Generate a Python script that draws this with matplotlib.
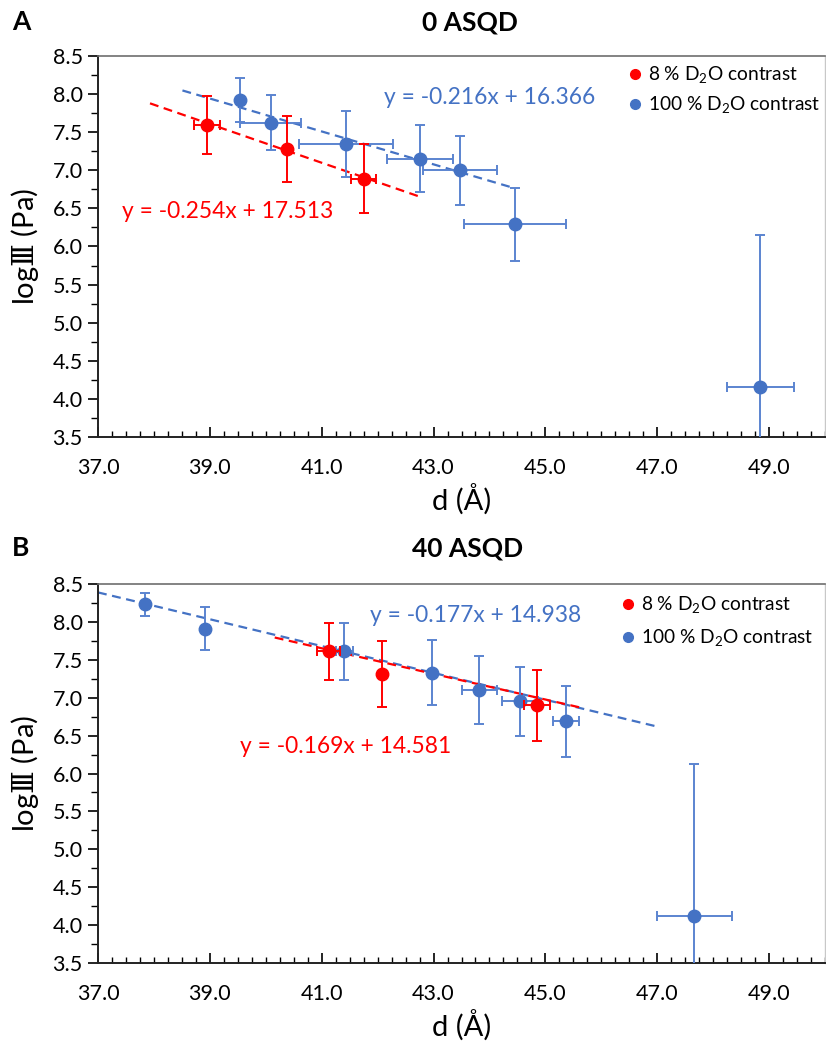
#!/usr/bin/env python3

import numpy as np
import matplotlib
matplotlib.use('Agg')
import matplotlib.pyplot as plt
from matplotlib.lines import Line2D
from matplotlib.ticker import MultipleLocator, FixedLocator, FormatStrFormatter

plt.rcParams['font.family'] = ['Lato', 'DejaVu Sans']
plt.rcParams['mathtext.fontset'] = 'custom'
plt.rcParams['mathtext.rm'] = 'Lato'
plt.rcParams['mathtext.cal'] = 'DejaVu Serif'

RED = '#ff0000'
BLUE = '#4472c4'
BLUE_ERR = '#5b84d0'

x_ticks = [37.0, 39.0, 41.0, 43.0, 45.0, 47.0, 49.0]

# panel A : 0 ASQD
a_red_x = [38.95, 40.38, 41.75]
a_red_y = [7.59, 7.28, 6.89]
a_red_xerr = [0.24, 0.0, 0.22]
a_red_yerr = [0.38, 0.43, 0.455]
a_blue_x = [39.54, 40.09, 41.44, 42.76, 43.47, 44.45, 48.84]
a_blue_y = [7.92, 7.625, 7.345, 7.15, 7.00, 6.29, 4.15]
a_blue_xerr = [0.0, 0.545, 0.84, 0.595, 0.66, 0.91, 0.60]
a_blue_yerr = [0.29, 0.36, 0.43, 0.44, 0.455, 0.48, 2.0]
a_red_fit = (-0.254, 17.513)
a_red_fit_range = [37.93, 42.76]
a_blue_fit = (-0.216, 16.366)
a_blue_fit_range = [38.51, 44.45]

# panel B : 40 ASQD
b_red_x = [41.125, 42.08, 44.85]
b_red_y = [7.61, 7.31, 6.90]
b_red_xerr = [0.2, 0.0, 0.23]
b_red_yerr = [0.375, 0.435, 0.47]
b_blue_x = [37.845, 38.92, 41.405, 42.976, 43.82, 44.54, 45.37, 47.66]
b_blue_y = [8.23, 7.91, 7.61, 7.33, 7.10, 6.95, 6.69, 4.12]
b_blue_xerr = [0.0, 0.0, 0.155, 0.0, 0.31, 0.32, 0.23, 0.67]
b_blue_yerr = [0.155, 0.28, 0.375, 0.43, 0.445, 0.46, 0.47, 2.0]
b_red_fit = (-0.169, 14.581)
b_red_fit_range = [40.16, 45.67]
b_blue_fit = (-0.177, 14.938)
b_blue_fit_range = [37.0, 46.95]

legend_labels = ['8 % D$_\\mathrm{2}$O contrast', '100 % D$_\\mathrm{2}$O contrast']
y_label = "log$\\mathcal{Ⅲ}$ (Pa)"


def eq_text(fit) :
	return "y = {0:.3f}x + {1:.3f}".format(fit[0], fit[1])


def draw_panel(ax, red, blue, red_fit, blue_fit, eq_pos, leg_pos, leg_space) :
	rx, ry, rxe, rye = red
	bx, by, bxe, bye = blue
	rr, rf = red_fit
	br, bf = blue_fit

	xs = np.array(br)
	ax.plot(xs, bf[0] * xs + bf[1], ls=(0, (4, 2.5)), color=BLUE, lw=1.6, zorder=2)
	xs = np.array(rr)
	ax.plot(xs, rf[0] * xs + rf[1], ls=(0, (4, 2.5)), color=RED, lw=1.6, zorder=2)

	ax.errorbar(bx, by, xerr=bxe, yerr=bye, fmt='o', color=BLUE, ecolor=BLUE_ERR,
		elinewidth=1.4, capsize=3.5, capthick=1.4, markersize=9, zorder=3)
	ax.errorbar(rx, ry, xerr=rxe, yerr=rye, fmt='o', color=RED, ecolor=RED,
		elinewidth=1.4, capsize=3.5, capthick=1.4, markersize=9, zorder=4)

	ax.text(eq_pos[0][0], eq_pos[0][1], eq_text(bf), color=BLUE, fontsize=16.4,
		transform=ax.transAxes, va='center')
	ax.text(eq_pos[1][0], eq_pos[1][1], eq_text(rf), color=RED, fontsize=16.4,
		transform=ax.transAxes, va='center')

	handles = [
		Line2D([], [], ls='none', marker='o', color=RED, markersize=7),
		Line2D([], [], ls='none', marker='o', color=BLUE, markersize=7),
	]
	ax.legend(handles, legend_labels, loc='upper left', bbox_to_anchor=leg_pos,
		frameon=False, fontsize=13.8, handlelength=0.6, handletextpad=0.4,
		labelspacing=leg_space, borderaxespad=0)

	ax.set_xlim(37.0, 50.0)
	ax.set_ylim(3.5, 8.5)
	ax.xaxis.set_major_locator(FixedLocator(x_ticks))
	ax.xaxis.set_minor_locator(MultipleLocator(0.25))
	ax.yaxis.set_major_locator(MultipleLocator(0.5))
	ax.yaxis.set_minor_locator(MultipleLocator(0.25))
	ax.xaxis.set_major_formatter(FormatStrFormatter('%.1f'))
	ax.yaxis.set_major_formatter(FormatStrFormatter('%.1f'))
	ax.tick_params(axis='x', which='major', direction='in', length=7, width=1.2, labelsize=15.5, pad=15)
	ax.tick_params(axis='x', which='minor', direction='in', length=4, width=1.0)
	ax.tick_params(axis='y', which='major', direction='out', length=7, width=1.2, labelsize=15.5, pad=4)
	ax.tick_params(axis='y', which='minor', direction='out', length=5, width=1.0)
	for side in ('left', 'bottom') :
		ax.spines[side].set_color('#222222')
		ax.spines[side].set_linewidth(1.4)
	ax.spines['top'].set_color('#6e6e6e')
	ax.spines['top'].set_linewidth(1.2)
	ax.spines['right'].set_color('#c8c8c8')
	ax.spines['right'].set_linewidth(1.0)

	ax.set_xlabel("d (Å)", fontsize=21, labelpad=4)
	ax.set_ylabel(y_label, fontsize=21)
	ax.yaxis.set_label_coords(-0.078, 0.5)


fig = plt.figure(figsize=(8.26, 10.43), dpi=100)

ax_a = fig.add_axes([98 / 826, 1 - 437 / 1043, 727 / 826, 381 / 1043])
draw_panel(ax_a,
	(a_red_x, a_red_y, a_red_xerr, a_red_yerr),
	(a_blue_x, a_blue_y, a_blue_xerr, a_blue_yerr),
	(a_red_fit_range, a_red_fit), (a_blue_fit_range, a_blue_fit),
	((0.394, 0.890), (0.033, 0.591)), (0.72, 0.998), 0.45)

ax_b = fig.add_axes([98 / 826, 1 - 963 / 1043, 727 / 826, 379 / 1043])
draw_panel(ax_b,
	(b_red_x, b_red_y, b_red_xerr, b_red_yerr),
	(b_blue_x, b_blue_y, b_blue_xerr, b_blue_yerr),
	(b_red_fit_range, b_red_fit), (b_blue_fit_range, b_blue_fit),
	((0.374, 0.916), (0.195, 0.570)), (0.710, 0.993), 0.65)

fig.text(470 / 826, 1 - 22 / 1043, "0 ASQD", fontsize=19, fontweight='bold', ha='center', va='center')
fig.text(12 / 826, 1 - 22 / 1043, "A", fontsize=19, fontweight='bold', ha='left', va='center')
fig.text(468 / 826, 1 - 548 / 1043, "40 ASQD", fontsize=19, fontweight='bold', ha='center', va='center')
fig.text(12 / 826, 1 - 548 / 1043, "B", fontsize=19, fontweight='bold', ha='left', va='center')

fig.savefig("out.png", dpi=100)
